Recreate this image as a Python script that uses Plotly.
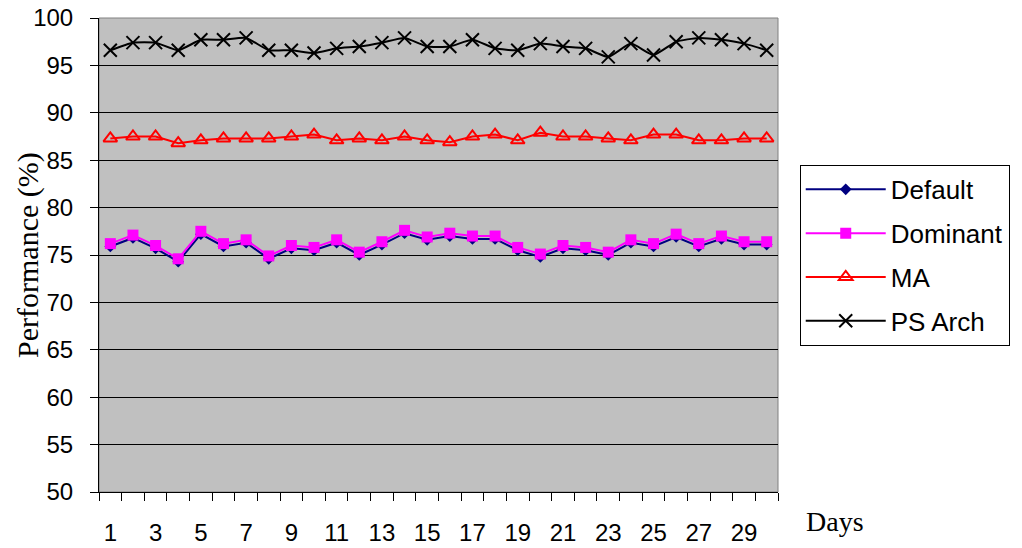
import plotly.graph_objects as go

# Daily performance (%) of the four schemes over 30 days
days = list(range(1, 31))
x_tick_vals = list(range(1, 30, 2))
x_tick_text = [str(v) for v in x_tick_vals]
y_tick_vals = list(range(50, 101, 5))

default = [75.9, 76.8, 75.7, 74.3, 77.2, 75.9, 76.3, 74.6, 75.7, 75.5,
           76.3, 75.0, 76.1, 77.3, 76.6, 77.0, 76.7, 76.7, 75.5, 74.8,
           75.7, 75.5, 75.0, 76.3, 75.9, 76.9, 75.9, 76.7, 76.1, 76.1]
dominant = [76.2, 77.1, 76.0, 74.6, 77.5, 76.2, 76.6, 74.9, 76.0, 75.8,
            76.6, 75.3, 76.4, 77.6, 76.9, 77.3, 77.0, 77.0, 75.8, 75.1,
            76.0, 75.8, 75.3, 76.6, 76.2, 77.2, 76.2, 77.0, 76.4, 76.4]
ma = [87.3, 87.5, 87.5, 86.8, 87.1, 87.3, 87.3, 87.3, 87.5, 87.7,
      87.1, 87.3, 87.1, 87.5, 87.1, 86.9, 87.5, 87.7, 87.1, 87.9,
      87.5, 87.5, 87.3, 87.1, 87.7, 87.7, 87.1, 87.1, 87.3, 87.3]
ps_arch = [96.6, 97.4, 97.4, 96.6, 97.7, 97.7, 97.9, 96.6, 96.6, 96.3,
           96.8, 97.0, 97.4, 97.9, 97.0, 97.0, 97.7, 96.8, 96.6, 97.3,
           97.0, 96.8, 95.9, 97.3, 96.1, 97.5, 97.9, 97.7, 97.3, 96.6]

fig = go.Figure()

fig.add_trace(go.Scatter(
    x=days, y=default, name="Default", mode="lines+markers", legendgroup="a",
    line=dict(color="#000080", width=2),
    marker=dict(symbol="diamond", size=9, color="#000080")))
fig.add_trace(go.Scatter(
    x=days, y=dominant, name="Dominant", mode="lines+markers", legendgroup="b",
    line=dict(color="#FF00FF", width=2),
    marker=dict(symbol="square", size=11, color="#FF00FF")))
fig.add_trace(go.Scatter(
    x=days, y=ma, name="MA", mode="lines+markers", legendgroup="c",
    line=dict(color="#FF0000", width=2),
    marker=dict(symbol="triangle-up-open", size=12, color="#FF0000",
                line=dict(width=2, color="#FF0000"))))
fig.add_trace(go.Scatter(
    x=days, y=ps_arch, name="PS Arch", mode="lines+markers", legendgroup="d",
    line=dict(color="#000000", width=2, shape="spline", smoothing=0.5),
    marker=dict(symbol="x-thin-open", size=13, color="#000000",
                line=dict(width=2, color="#000000"))))

fig.update_layout(
    width=1022, height=548,
    margin=dict(l=99, r=244, t=18, b=56, autoexpand=False),
    paper_bgcolor="white",
    plot_bgcolor="#C0C0C0",
    font=dict(family="Liberation Sans, Arial, sans-serif", size=24, color="black"),
    showlegend=True,
    legend=dict(
        x=1.032, y=0.69, xanchor="left", yanchor="top",
        bgcolor="white", bordercolor="black", borderwidth=1,
        font=dict(size=26), tracegroupgap=7, itemwidth=80,
    ),
    xaxis=dict(
        range=[0.5, 30.5], automargin=False,
        tickmode="array", tickvals=x_tick_vals, ticktext=x_tick_text,
        ticks="", showgrid=False, zeroline=False,
        showline=True, linecolor="black", linewidth=1,
        ticklabelstandoff=19,
        minor=dict(tickmode="array", tickvals=[d - 0.5 for d in days] + [30.5],
                   ticks="outside", ticklen=8, tickcolor="black", showgrid=False),
    ),
    yaxis=dict(
        range=[50, 100], automargin=False,
        tickmode="array", tickvals=y_tick_vals,
        ticks="outside", ticklen=8, tickcolor="black",
        showgrid=True, gridcolor="black", gridwidth=1, zeroline=False,
        showline=True, linecolor="black", linewidth=1,
        ticklabelstandoff=12,
    ),
    shapes=[dict(type="rect", xref="paper", yref="paper", x0=0, y0=0, x1=1, y1=1,
                 line=dict(color="#808080", width=1), layer="below")],
    annotations=[
        dict(text="Performance (%)", xref="paper", yref="paper",
             x=-0.1046, y=0.5, xanchor="center", yanchor="middle",
             textangle=-90, showarrow=False,
             font=dict(family="Liberation Serif, Times New Roman, serif", size=30)),
        dict(text="Days", xref="paper", yref="paper",
             x=1.084, y=-0.063, xanchor="center", yanchor="middle",
             showarrow=False,
             font=dict(family="Liberation Serif, Times New Roman, serif", size=28)),
    ],
)

fig.write_html("out.html")
